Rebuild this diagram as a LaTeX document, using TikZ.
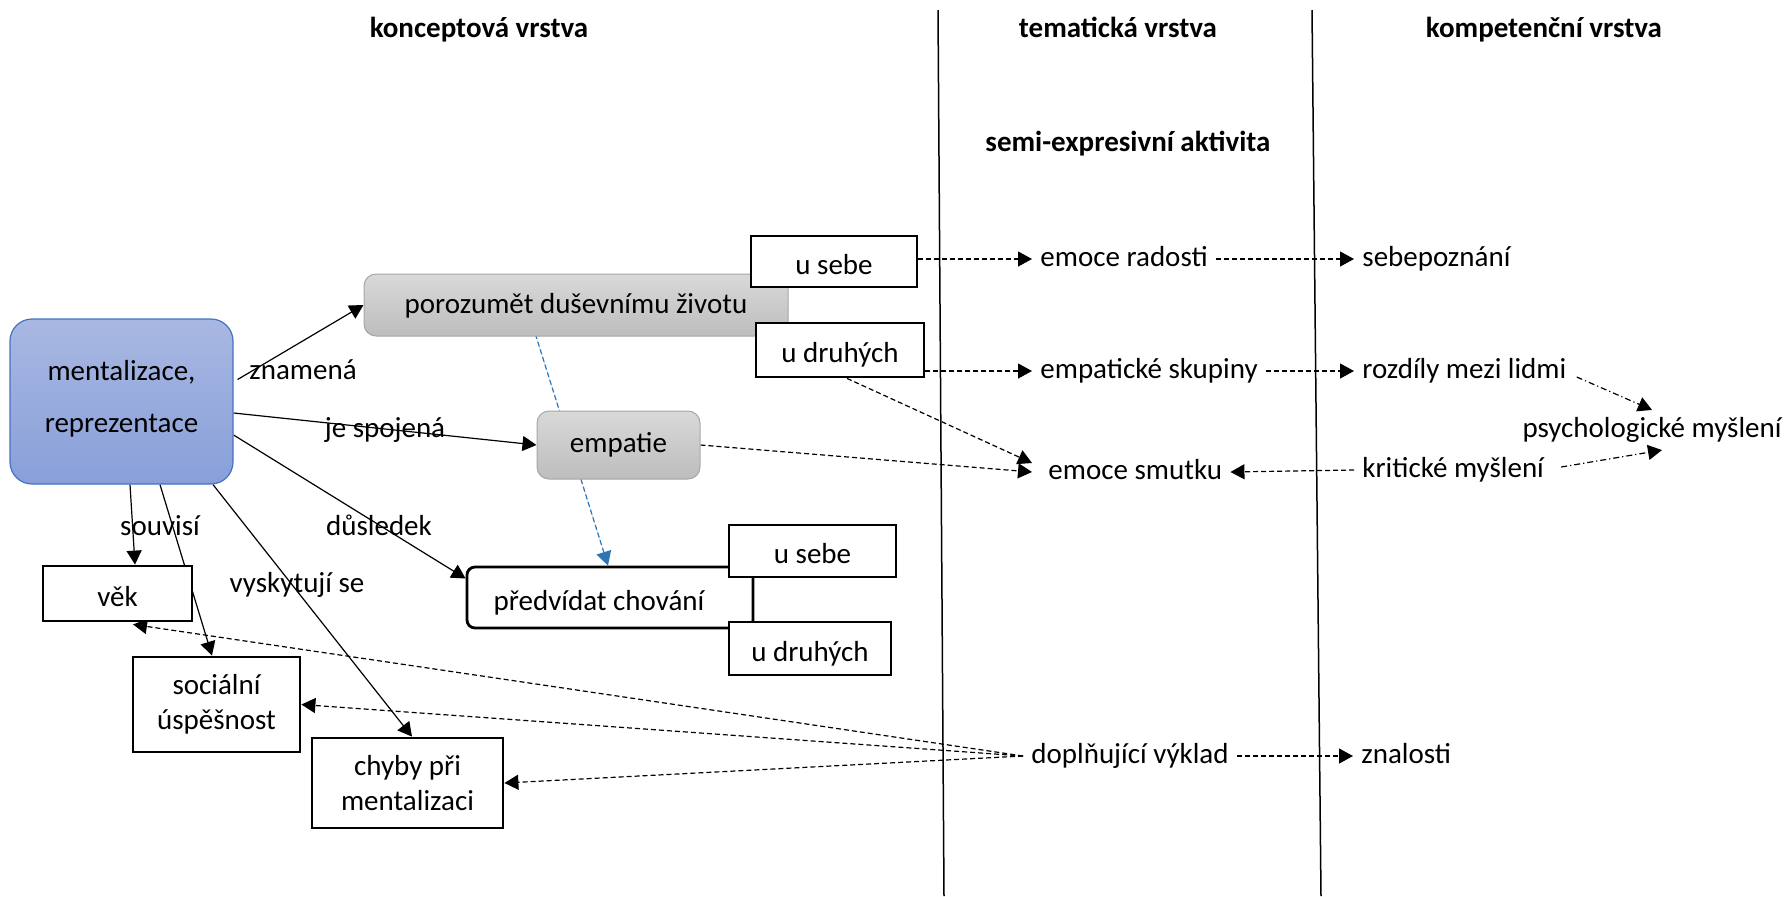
\documentclass[tikz,border=0pt]{standalone}
\usepackage{fontspec}
\setmainfont{Carlito}
\usepackage{tikz}
\usetikzlibrary{arrows.meta, backgrounds}
\definecolor{colorMtop}{HTML}{A9B8E2}
\definecolor{colorMbot}{HTML}{889FD9}
\definecolor{colorMline}{HTML}{4472C4}
\definecolor{colorGtop}{HTML}{D9D9D9}
\definecolor{colorGbot}{HTML}{BDBDBD}
\definecolor{colorGline}{HTML}{A6A6A6}
\definecolor{colorB}{HTML}{2E75B6}

\begin{document}
\begin{tikzpicture}[x=0.5pt, y=-0.5pt,
    every node/.style={font=\fontsize{14.5}{17.5}\selectfont},
    vrstva/.style={font=\fontsize{14.5}{17.5}\selectfont\bfseries, text height=10pt, text depth=3pt},
    popis/.style={text height=10pt, text depth=3pt, inner xsep=4pt},
    pojem/.style={draw, line width=1.4pt, fill=white, align=center, font=\fontsize{14.5}{17.5}\selectfont},
    jedna/.style={text height=13.5pt, text depth=1pt},
    seda/.style={draw=colorGline, line width=0.5pt, rounded corners=6pt, top color=colorGtop, bottom color=colorGbot},
    sipka/.style={-{Triangle[length=7pt,width=7.5pt]}, line width=0.6pt},
    carkovana/.style={sipka, dash pattern=on 2.5pt off 1.5pt},
    teckcarka/.style={sipka, dash pattern=on 3pt off 1.5pt on 0.6pt off 1.5pt}]
        \useasboundingbox (0,0) rectangle (1789,896);

        % vrstvy
        \draw[line width=0.75pt] (938,10) -- (944,896);
        \draw[line width=0.75pt] (1312,10) -- (1321,896);
        \node[vrstva] (konc) at (479,30) {konceptová vrstva};
        \node[vrstva] (tema) at (1118,30) {tematická vrstva};
        \node[vrstva] (komp) at (1544,30) {kompetenční vrstva};
        \node[vrstva] (semi) at (1128,144) {semi-expresivní aktivita};

        % konceptova vrstva
        \node[draw=colorMline, line width=0.6pt, rounded corners=11pt, top color=colorMtop, bottom color=colorMbot,
              minimum width=111.5pt, minimum height=82.5pt, align=center, font=\fontsize{14.5}{26}\selectfont]
              (ment) at (121.5,401.5) {mentalizace,\\reprezentace\\[-21pt]\mbox{}};
        \node[seda, minimum width=212pt, minimum height=31pt, text height=11pt, text depth=3pt] (poroz) at (576,305) {porozumět duševnímu životu};
        \node[seda, minimum width=81.5pt, minimum height=34pt] (emp) at (618.5,445) {empatie};
        \node[pojem, jedna, minimum width=83pt, minimum height=25.5pt] (usebeA) at (834,261.5) {u sebe};
        \node[pojem, jedna, minimum width=84pt, minimum height=27pt] (udruhA) at (840,350) {u druhých};
        \node[draw, jedna, line width=1.4pt, rounded corners=4pt, fill=white, minimum width=143pt, minimum height=30.5pt]
              (pred) at (610,597.5) {předvídat chování\hspace*{11pt}};
        \node[pojem, jedna, minimum width=83.5pt, minimum height=26pt] (usebeB) at (812.5,551) {u sebe};
        \node[pojem, jedna, minimum width=81pt, minimum height=26.5pt] (udruhB) at (810,648.5) {u druhých};
        \node[pojem, jedna, minimum width=74.5pt, minimum height=27.5pt] (vek) at (117.5,593.5) {věk};
        \node[pojem, minimum width=83.5pt, minimum height=47.5pt] (soc) at (216.5,704.5) {sociální\\úspěšnost};
        \node[pojem, minimum width=95.5pt, minimum height=45pt] (chyby) at (407.5,783) {chyby při\\mentalizaci};

        \node[popis] (znamena) at (303,372) {znamená};
        \node[popis] (spojena) at (385,430) {je spojená};
        \node[popis] (souvisi) at (160,528) {souvisí};
        \node[popis] (dusledek) at (379,528) {důsledek};
        \node[popis] (vyskyt) at (297,585) {vyskytují se};

        % tematicka a kompetencni vrstva
        \node[popis, anchor=west] (radost) at (1032,259) {emoce radosti};
        \node[popis, anchor=west] (empsk) at (1032,371) {empatické skupiny};
        \node[popis, anchor=west] (smutek) at (1040,472) {emoce smutku};
        \node[popis, anchor=west] (dopl) at (1023,756) {doplňující výklad};
        \node[popis, anchor=west] (sebep) at (1354,259) {sebepoznání};
        \node[popis, anchor=west] (rozd) at (1354,371) {rozdíly mezi lidmi};
        \node[popis, anchor=west] (krit) at (1354,470) {kritické myšlení};
        \node[popis, anchor=west] (znal) at (1353,756) {znalosti};
        \node[popis] (psych) at (1652,430) {psychologické myšlení};

        \begin{scope}[on background layer]
            \draw[sipka] ([shift={(4,-22)}]ment.east) -- (poroz.west);
            \draw[sipka] ([shift={(0,11.5)}]ment.east) -- (emp.west);
            \draw[sipka] ([shift={(0,33.5)}]ment.east) -- ([shift={(0,-19)}]pred.west);
            \draw[sipka] ([shift={(8.5,0)}]ment.south) -- ([shift={(17.5,0)}]vek.north);
            \draw[sipka] ([shift={(38.5,0)}]ment.south) -- ([shift={(-4.5,0)}]soc.north);
            \draw[sipka] ([shift={(91.5,0)}]ment.south) -- ([shift={(4.5,0)}]chyby.north);
            \draw[carkovana, draw=colorB, fill=colorB] ([shift={(-43,-10)}]poroz.south) -- ([xshift=-1pt]pred.north);

            \draw[carkovana] (usebeA.east |- radost.west) -- (radost.west);
            \draw[carkovana] (radost.east) -- (sebep.west);
            \draw[carkovana] (udruhA.east |- empsk.west) -- (empsk.west);
            \draw[carkovana] (empsk.east) -- (rozd.west);
            \draw[carkovana] ([shift={(7,0)}]udruhA.south) -- ([shift={(-8,-9)}]smutek.west);
            \draw[carkovana] (emp.east) -- ([shift={(-8,0)}]smutek.west);
            \draw[carkovana] (krit.west) -- (smutek.east);
            \draw[teckcarka] ([shift={(2,6)}]rozd.east) -- (psych.north);
            \draw[teckcarka] ([shift={(9,-3)}]krit.east) -- ([xshift=5pt]psych.south);
            \draw[carkovana] (dopl.east) -- (znal.west);
            \draw[carkovana] (dopl.west) -- ([shift={(15.5,2)}]vek.south);
            \draw[carkovana] (dopl.west) -- (soc.east);
            \draw[carkovana] (dopl.west) -- (chyby.east);
        \end{scope}
    \end{tikzpicture}
\end{document}
